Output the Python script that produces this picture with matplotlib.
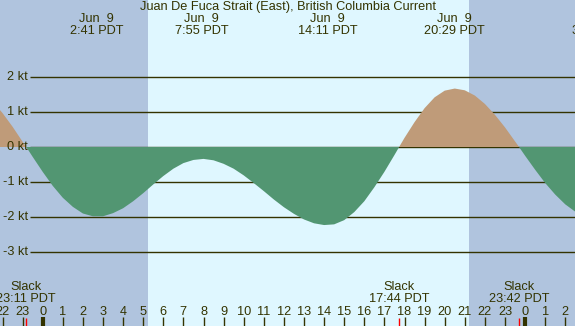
import matplotlib
matplotlib.use("Agg")
import matplotlib.pyplot as plt
import numpy as np

# ---------------- data ----------------
title = "Juan De Fuca Strait (East), British Columbia Current"

# hours relative to midnight Jun 9 (negative = Jun 8)
times = [-2.5, -2.0, -1.5, -1.0, -0.8167, -0.5, 0.0, 0.5, 1.0, 1.5, 2.0, 2.5,
         3.0, 3.5, 4.0, 4.5, 5.0, 5.5, 6.0, 6.5, 7.0, 7.5, 8.0, 8.5, 9.0,
         9.5, 10.0, 10.5, 11.0, 11.5, 12.0, 12.5, 13.0, 13.5, 14.0, 14.5,
         15.0, 15.5, 16.0, 16.5, 17.0, 17.5, 17.7333, 18.0, 18.5, 19.0,
         19.5, 20.0, 20.5, 21.0, 21.5, 22.0, 22.5, 23.0, 23.5, 23.7, 24.0,
         24.5, 25.0, 25.5, 26.0, 26.5, 27.0]
speeds = [1.31, 0.97, 0.58, 0.15, 0.0, -0.28, -0.71, -1.11, -1.45, -1.71,
          -1.90, -1.98, -1.98, -1.89, -1.75, -1.55, -1.32, -1.07, -0.83,
          -0.62, -0.46, -0.37, -0.34, -0.38, -0.48, -0.62, -0.81, -1.03,
          -1.26, -1.50, -1.72, -1.91, -2.07, -2.18, -2.23, -2.21, -2.09,
          -1.86, -1.55, -1.15, -0.71, -0.23, 0.0, 0.26, 0.71, 1.11, 1.42,
          1.61, 1.67, 1.62, 1.47, 1.23, 0.92, 0.56, 0.16, 0.0, -0.25, -0.65,
          -1.03, -1.36, -1.64, -1.85, -1.99]

extreme_times = [2 + 41/60, 7 + 55/60, 14 + 11/60, 20 + 29/60, 27 + 40/60]
extreme_dates = ["Jun  9", "Jun  9", "Jun  9", "Jun  9", "Jun 10"]
extreme_labels = ["2:41 PDT", "7:55 PDT", "14:11 PDT", "20:29 PDT", "3:40 PDT"]

slack_times = [-(49/60), 17 + 44/60, 23 + 42/60]
slack_labels = ["23:11 PDT", "17:44 PDT", "23:42 PDT"]

sunrise, sunset = 5 + 14/60, 21 + 12/60
hour_ticks = list(range(-2, 27))
kt_levels = [-3, -2, -1, 0, 1, 2]

# ---------------- style ----------------
W, H = 575, 326
night = "#B0C4DE"
day = "#DFF7FF"
flood = "#BF9B79"
ebb = "#529672"
ink = "#333300"
plt.rcParams['font.family'] = ['Liberation Sans', 'DejaVu Sans']
fs = 9.2

fig = plt.figure(figsize=(W/100, H/100), dpi=100)
fig.patch.set_facecolor(night)
ax = fig.add_axes([0, 0, 1, 1])
ax.set_axis_off()
px_per_h = 20.1
x0 = 42.7
ax.set_xlim(-x0/px_per_h, (W - x0)/px_per_h)
ax.set_ylim((147 - H)/35, 147/35)

ax.axvspan(sunrise, sunset, color=day, lw=0, zorder=0)

ytr = ax.get_yaxis_transform()
xtr = ax.get_xaxis_transform()

ax.hlines(kt_levels, 30/W, 1, transform=ytr, color=ink, lw=1.0, zorder=1)
for v in kt_levels:
    ax.text(28/W, v, f"{v} kt", transform=ytr, ha='right', va='center',
            fontsize=fs, color=ink, zorder=3)

t = np.array(times)
s = np.array(speeds)
ax.fill_between(t, s, 0, where=s >= 0, interpolate=True, color=flood, lw=0, zorder=2)
ax.fill_between(t, s, 0, where=s <= 0, interpolate=True, color=ebb, lw=0, zorder=2)

def fy(p):
    return 1 - p/H

ax.text(0.5, fy(7), title, transform=ax.transAxes, ha='center', va='center',
        fontsize=fs, color=ink)
for tm, d, lab in zip(extreme_times, extreme_dates, extreme_labels):
    ax.text(tm, fy(19), d, transform=xtr, ha='center', va='center', fontsize=fs, color=ink)
    ax.text(tm, fy(31), lab, transform=xtr, ha='center', va='center', fontsize=fs, color=ink)

for tm, lab in zip(slack_times, slack_labels):
    ax.text(tm, fy(287), "Slack", transform=xtr, ha='center', va='center', fontsize=fs, color=ink)
    ax.text(tm, fy(299), lab, transform=xtr, ha='center', va='center', fontsize=fs, color=ink)
    ax.vlines(tm, 0, 8/H, transform=xtr, color='red', lw=1.0, zorder=4)

for h in hour_ticks:
    ax.text(h, fy(312), str(h % 24), transform=xtr, ha='center', va='center',
            fontsize=fs, color=ink)
    lw = 3.0 if h % 24 == 0 else 1.0
    ax.vlines(h, 0, 9/H, transform=xtr, color=ink, lw=lw, zorder=4)

fig.savefig("out.png", dpi=100, facecolor=night)
